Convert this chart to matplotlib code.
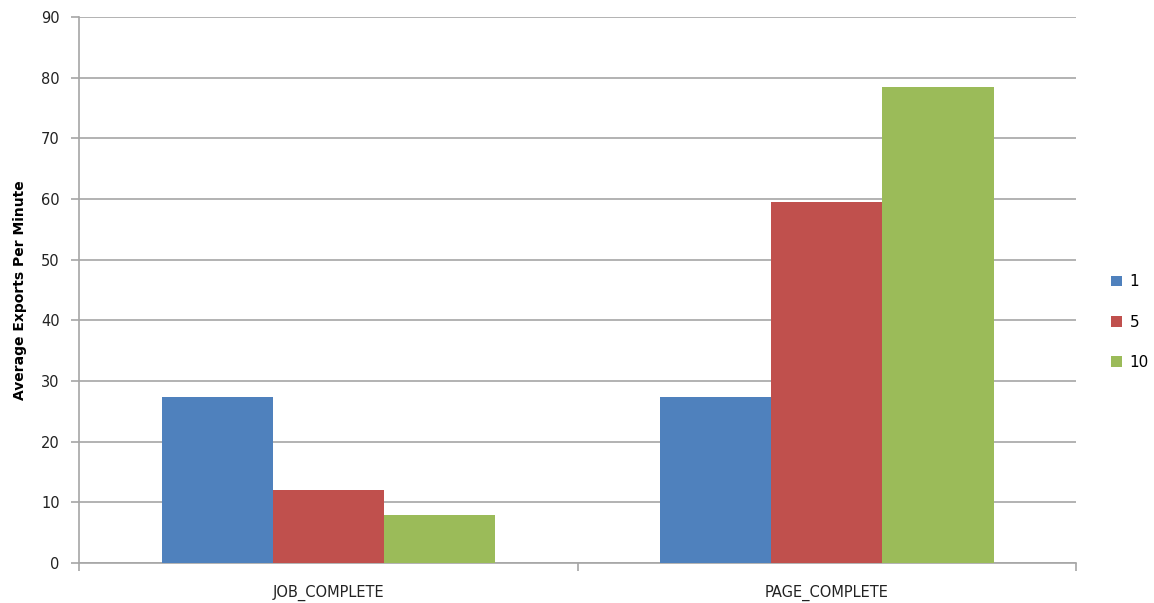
import numpy as np
import matplotlib
matplotlib.use('Agg')
import matplotlib.pyplot as plt

categories = ['JOB_COMPLETE', 'PAGE_COMPLETE']
series = ['1', '5', '10']
vals_1 = [27.4, 27.4]
vals_5 = [12.0, 59.5]
vals_10 = [7.9, 78.5]
colors = ['#4F81BD', '#C0504D', '#9BBB59']

plt.rcParams['font.family'] = ['DejaVu Sans']
fig = plt.figure(figsize=(11.54, 6.03), dpi=100)
ax = fig.add_axes([0.0685, 0.0663, 0.864, 0.9055])

x = np.arange(len(categories))
w = 0.223
for i, (vals, name) in enumerate(zip([vals_1, vals_5, vals_10], series)):
    ax.bar(x + (i - 1) * w, vals, w, color=colors[i], label=name, zorder=3)

ax.set_xlim(-0.5, 1.5)
ax.set_ylim(0, 90)
ax.set_yticks(np.arange(0, 91, 10))
ax.yaxis.grid(True, color='#A6A6A6', linewidth=1.2, zorder=0)
ax.set_xticks(x)
ax.set_xticklabels(categories)
ax.set_xticks([-0.5, 0.5, 1.5], minor=True)
ax.tick_params(axis='x', which='major', length=0, pad=16, labelsize=10.5, colors='#222222')
ax.tick_params(axis='x', which='minor', length=6, color='#A6A6A6', width=1.2)
ax.tick_params(axis='y', length=6, color='#A6A6A6', width=1.2, labelsize=10.5, colors='#222222', pad=8)
for s in ['top', 'right']:
    ax.spines[s].set_visible(False)
for s in ['left', 'bottom']:
    ax.spines[s].set_color('#A6A6A6')
    ax.spines[s].set_linewidth(1.2)
ax.set_ylabel('Average Exports Per Minute', fontsize=10, fontweight='bold', labelpad=10)

fig.legend(loc='center left', bbox_to_anchor=(0.951, 0.466), frameon=False,
           handlelength=0.7, handleheight=0.7, handletextpad=0.5, labelspacing=1.65,
           fontsize=11)

fig.savefig('out.png', dpi=100)
